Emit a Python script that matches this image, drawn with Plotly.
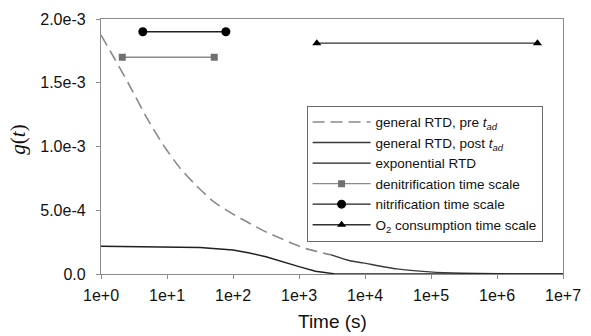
import plotly.graph_objects as go

# ---- data ----
t_pre = [1, 1.6, 2.57, 5.0, 9.1, 15.8, 28.2, 50.1, 89.1, 162, 288, 513, 832, 1318, 2512, 3000]
g_pre = [1.875e-3, 1.69e-3, 1.5e-3, 1.22e-3, 1.0e-3, 8.3e-4, 6.9e-4, 5.7e-4, 4.85e-4,
         4.1e-4, 3.4e-4, 2.83e-4, 2.35e-4, 1.97e-4, 1.6e-4, 1.52e-4]

t_post = [3000, 5900, 9330, 30200, 95500, 302000, 1.0e6, 3.0e6, 1.0e7]
g_post = [1.52e-4, 1.04e-4, 8.7e-5, 4.0e-5, 1.7e-5, 6e-6, 1.5e-6, 3e-7, 0]

t_exp = [1, 10, 31.6, 100, 178, 316, 562, 1000, 1778, 2818, 3548, 1.0e7]
g_exp = [2.18e-4, 2.15e-4, 2.08e-4, 1.88e-4, 1.65e-4, 1.35e-4, 9.5e-5, 5.8e-5, 2.2e-5, 4e-6, 0, 0]

denit_t = [2.1, 52]
denit_g = [1.7e-3, 1.7e-3]
nit_t = [4.3, 78]
nit_g = [1.9e-3, 1.9e-3]
o2_t = [1860, 4.1e6]
o2_g = [1.81e-3, 1.81e-3]

x_tickvals = [1, 10, 100, 1e3, 1e4, 1e5, 1e6, 1e7]
x_ticktext = ["1e+0", "1e+1", "1e+2", "1e+3", "1e+4", "1e+5", "1e+6", "1e+7"]
y_tickvals = [0, 5e-4, 1e-3, 1.5e-3, 2e-3]
y_ticktext = ["0.0", "5.0e-4", "1.0e-3", "1.5e-3", "2.0e-3"]
x_title = "Time (s)"
y_title = "<i>g</i>(<i>t</i>)"

fig = go.Figure()
fig.add_trace(go.Scatter(x=t_pre, y=g_pre, mode="lines",
                         line=dict(color="#8a8a8a", width=1.6, dash="12px,6px", shape="spline", smoothing=0.6),
                         name="general RTD, pre <i>t</i><sub><i>ad</i></sub>"))
fig.add_trace(go.Scatter(x=t_post, y=g_post, mode="lines",
                         line=dict(color="#3a3a3a", width=1.4, shape="spline", smoothing=0.6),
                         name="general RTD, post <i>t</i><sub><i>ad</i></sub>"))
fig.add_trace(go.Scatter(x=t_exp, y=g_exp, mode="lines",
                         line=dict(color="#202020", width=1.4),
                         name="exponential RTD"))
fig.add_trace(go.Scatter(x=denit_t, y=denit_g, mode="lines+markers",
                         line=dict(color="#8a8a8a", width=1.3),
                         marker=dict(symbol="square", size=7, color="#707070"),
                         name="denitrification time scale"))
fig.add_trace(go.Scatter(x=nit_t, y=nit_g, mode="lines+markers",
                         line=dict(color="#202020", width=1.3),
                         marker=dict(symbol="circle", size=9, color="#000000"),
                         name="nitrification time scale"))
fig.add_trace(go.Scatter(x=o2_t, y=o2_g, mode="lines+markers",
                         line=dict(color="#303030", width=1.3),
                         marker=dict(symbol="triangle-up", size=8, color="#000000"),
                         name="O<sub>2</sub> consumption time scale"))

axis_common = dict(showline=True, linecolor="#8c8c8c", linewidth=1.3, mirror=True,
                   ticks="outside", ticklen=4, tickcolor="#8c8c8c", showgrid=False,
                   zeroline=False, automargin=False,
                   tickfont=dict(family="Liberation Sans, Arial", size=16, color="#111"))

fig.update_xaxes(type="log", range=[0, 7], tickvals=x_tickvals, ticktext=x_ticktext,
                 ticklabelstandoff=3, **axis_common)
fig.update_yaxes(range=[0, 2e-3], tickvals=y_tickvals, ticktext=y_ticktext,
                 ticklabelstandoff=7, **axis_common)

fig.add_annotation(text=x_title, xref="paper", yref="paper", x=0.5, y=-0.186,
                   xanchor="center", yanchor="middle", showarrow=False,
                   font=dict(family="Liberation Sans, Arial", size=19, color="#111"))
fig.add_annotation(text=y_title, xref="paper", yref="paper", x=-0.18, y=0.526,
                   xanchor="center", yanchor="middle", showarrow=False, textangle=-90,
                   font=dict(family="Liberation Serif, Times New Roman", size=21, color="#111"))

fig.update_layout(
    width=591, height=336,
    margin=dict(l=101, r=28, t=19, b=61.5),
    plot_bgcolor="white", paper_bgcolor="white",
    font=dict(family="Liberation Sans, Arial", color="#111"),
    legend=dict(x=0.445, y=0.66, xanchor="left", yanchor="top",
                bordercolor="#6a6a6a", borderwidth=1, bgcolor="white",
                font=dict(family="Liberation Sans, Arial", size=13.5, color="#111"),
                itemwidth=58, tracegroupgap=0),
    showlegend=True,
)

fig.write_html("out.html")
